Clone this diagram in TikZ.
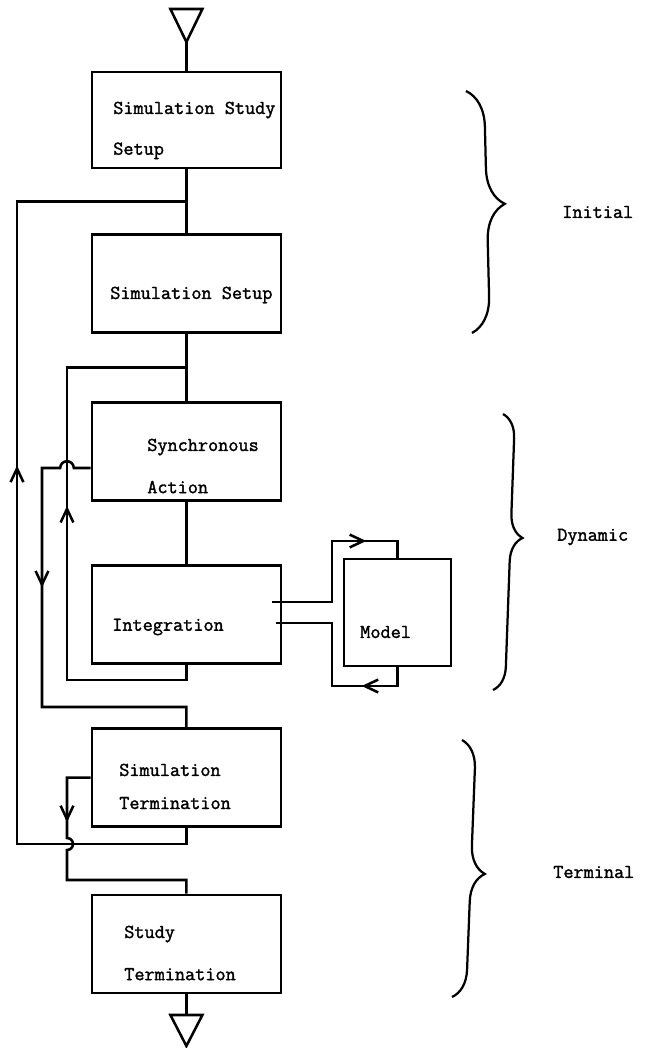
\documentclass[tikz,border=0pt]{standalone}
\usepackage{fontspec}
\setmonofont[FakeBold=1.6]{Latin Modern Mono}
\usetikzlibrary{arrows.meta,calc,decorations.markings,decorations.pathreplacing}

\begin{document}
\begin{tikzpicture}[
  x=1cm,y=1cm,font=\ttfamily\fontsize{14}{16}\selectfont,
  >={Straight Barb[length=3.4mm,width=3.2mm]},
  wire/.style={draw,line width=1.8pt},
  flow/.style={wire,postaction={decorate},
               decoration={markings,mark=at position #1 with {\arrow{>}}}},
  stage/.style={draw,line width=1.8pt,minimum width=4.72cm,minimum height=2.45cm,inner sep=0pt},
  txt/.style={anchor=west,align=left,inner sep=0pt},
  brc/.style n args={2}{draw,line width=1.6pt,decorate,
                        decoration={brace,amplitude=#1,aspect=#2}}
]
\useasboundingbox (0,0) rectangle (16.225,-26.2);
% ---------- stages (main column)
\node[stage,minimum height=2.4cm] (studysetup) at (4.66,-3.0)  {};
\node[stage] (simsetup)  at (4.66,-7.09)  {};
\node[stage] (sync)      at (4.66,-11.29) {};
\node[stage] (integ)     at (4.66,-15.36) {};
\node[stage] (simterm)   at (4.66,-19.44) {};
\node[stage] (studyterm) at (4.66,-23.6)  {};
\node[stage,minimum width=2.675cm,minimum height=2.675cm] (model) at (9.94,-15.31) {};
% ---------- texts
\node[txt] (studysetup-t) at (2.825,-3.26) {Simulation Study\\[13pt]Setup};
\node[txt] (simsetup-t)   at (2.75,-7.375) {Simulation Setup};
\node[txt] (sync-t)       at (3.675,-11.65) {Synchronous\\[14pt]Action};
\node[txt] (integ-t)      at (2.8,-15.675) {Integration};
\node[txt] (simterm-t)    at (2.975,-19.66) {Simulation\\[7.5pt]Termination};
\node[txt] (studyterm-t)  at (3.1,-23.825) {Study\\[14pt]Termination};
\node[txt] (model-t)      at (9.0,-15.8)   {Model};
% ---------- entry and exit
\coordinate (entry) at (4.66,-1.05);
\coordinate (exit)  at (4.66,-25.375);
\draw[wire] (4.26,-0.225) -- (5.06,-0.225) -- (entry) -- cycle;
\draw[wire] (4.26,-25.375) -- (5.06,-25.375) -- (4.66,-26.15) -- cycle;
\draw[wire] (entry) -- (studysetup);
\draw[wire] (studyterm) -- (exit);
% ---------- spine and loops
\coordinate (jtop) at ($(studysetup.south)!0.5!(simsetup.north)$);
\coordinate (jmid) at ($(simsetup.south)!0.5!(sync.north)$);
\draw[wire] (studysetup) -- (simsetup);
\draw[wire] (simsetup) -- (sync);
\draw[wire] (sync) -- (integ);
\draw[flow=14.1cm] (simterm.south) |- (0.425,-21.1) |- (jtop);
\draw[flow=7.72cm] (integ.south) |- (1.675,-17.0) |- (jmid);
\draw[flow=4.4cm] ([yshift=-4.1mm]sync.west) -- (1.845,-11.7)
  arc[start angle=0,end angle=180,radius=0.17] -- (1.05,-11.7) |- (4.66,-17.675) -- (simterm);
\draw[flow=1.71cm] (simterm.west) -- (1.675,-19.44) -- (1.675,-20.95)
  arc[start angle=90,end angle=-90,radius=0.15] |- (4.66,-22.0) -- (studyterm);
\draw[flow=3.88cm] ([xshift=-2.5mm,yshift=3.1mm]integ.east) -| (8.3,-13.525) -| (model);
\draw[flow=1.37cm] (model) |- (8.3,-17.15) |- ([xshift=-1.45mm,yshift=-2.15mm]integ.east);
% ---------- phases
\draw[brc={9mm}{0.47}]  (11.65,-2.275) -- (11.8,-8.325);
\draw[brc={6mm}{0.446}] (12.575,-10.35) -- (12.325,-17.25);
\draw[brc={7mm}{0.517}] (11.55,-18.5) -- (11.3,-24.925);
\node[txt] (initial)  at (14.05,-5.3)     {Initial};
\node[txt] (dynamic)  at (13.925,-13.425) {Dynamic};
\node[txt] (terminal) at (13.825,-21.8)   {Terminal};
\end{tikzpicture}
\end{document}
